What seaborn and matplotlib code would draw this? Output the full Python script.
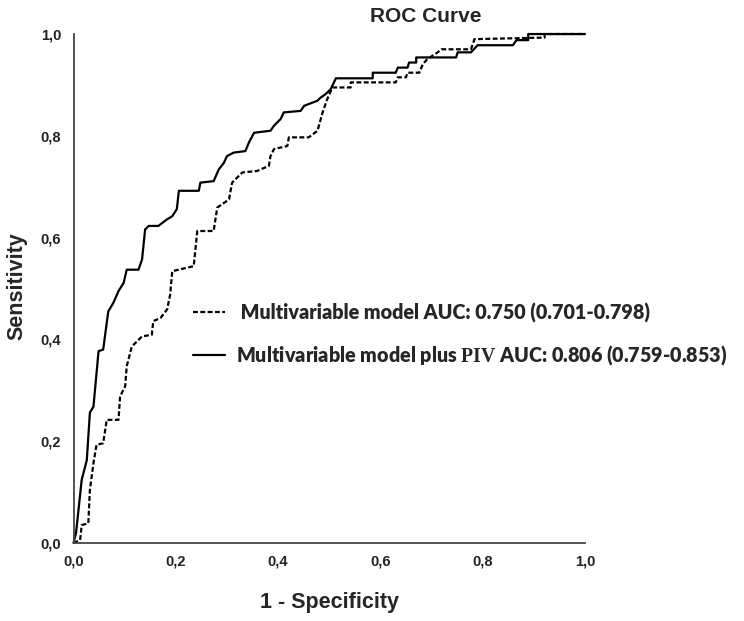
"""
ROC curves: multivariable model vs multivariable model plus PIV
"""

import numpy as np
import pandas as pd
import matplotlib
matplotlib.use('Agg')
import matplotlib.pyplot as plt
import seaborn as sns

# ROC vertices (1 - specificity, sensitivity)
base_fpr = [0.000, 0.013, 0.016, 0.029, 0.032, 0.039, 0.045, 0.058, 0.065, 0.088,
            0.091, 0.101, 0.104, 0.114, 0.134, 0.153, 0.156, 0.170, 0.183, 0.189,
            0.193, 0.235, 0.242, 0.274, 0.281, 0.304, 0.310, 0.330, 0.359, 0.382,
            0.385, 0.392, 0.418, 0.421, 0.460, 0.477, 0.487, 0.496, 0.506, 0.542,
            0.542, 0.630, 0.634, 0.650, 0.653, 0.676, 0.683, 0.692, 0.712, 0.719,
            0.777, 0.784, 0.921, 0.921, 1.000]
base_tpr = [0.000, 0.006, 0.035, 0.039, 0.104, 0.157, 0.193, 0.196, 0.242, 0.242,
            0.288, 0.308, 0.347, 0.386, 0.406, 0.409, 0.436, 0.442, 0.459, 0.488,
            0.534, 0.544, 0.613, 0.613, 0.659, 0.675, 0.708, 0.728, 0.731, 0.741,
            0.760, 0.774, 0.780, 0.797, 0.797, 0.810, 0.846, 0.872, 0.895, 0.895,
            0.905, 0.905, 0.915, 0.915, 0.924, 0.924, 0.941, 0.951, 0.964, 0.970,
            0.970, 0.990, 0.993, 1.000, 1.000]

piv_fpr = [0.000, 0.005, 0.009, 0.016, 0.026, 0.032, 0.039, 0.049, 0.058, 0.068,
           0.078, 0.088, 0.098, 0.104, 0.127, 0.134, 0.140, 0.147, 0.166, 0.183,
           0.193, 0.202, 0.206, 0.245, 0.248, 0.274, 0.284, 0.294, 0.300, 0.313,
           0.336, 0.343, 0.353, 0.385, 0.392, 0.405, 0.411, 0.444, 0.451, 0.477,
           0.483, 0.493, 0.503, 0.513, 0.585, 0.585, 0.630, 0.634, 0.653, 0.656,
           0.670, 0.670, 0.748, 0.751, 0.777, 0.790, 0.859, 0.866, 0.889, 0.889,
           1.000]
piv_tpr = [0.000, 0.020, 0.058, 0.124, 0.163, 0.256, 0.268, 0.377, 0.380, 0.455,
           0.472, 0.495, 0.511, 0.537, 0.537, 0.557, 0.616, 0.623, 0.623, 0.636,
           0.642, 0.656, 0.692, 0.692, 0.708, 0.711, 0.734, 0.747, 0.760, 0.767,
           0.770, 0.787, 0.806, 0.810, 0.820, 0.833, 0.846, 0.849, 0.859, 0.869,
           0.875, 0.882, 0.892, 0.913, 0.913, 0.924, 0.924, 0.934, 0.934, 0.944,
           0.944, 0.954, 0.954, 0.964, 0.964, 0.978, 0.978, 0.988, 0.988, 1.000,
           1.000]

ticks = [0.0, 0.2, 0.4, 0.6, 0.8, 1.0]
tick_labels = ['0,0', '0,2', '0,4', '0,6', '0,8', '1,0']

label_base = ' Multivariable model AUC: 0.750 (0.701-0.798)'
label_piv = 'Multivariable model plus $\\mathbf{PIV}$ AUC: 0.806 (0.759-0.853)'

sns.set_style('white')
plt.rcParams['font.family'] = ['Liberation Sans', 'DejaVu Sans']
plt.rcParams['mathtext.fontset'] = 'custom'
plt.rcParams['mathtext.bf'] = 'Liberation Serif:bold'
plt.rcParams['mathtext.rm'] = 'Liberation Serif'

fig = plt.figure(figsize=(7.44, 6.21), dpi=100)
ax = fig.add_axes([0.0988, 0.1256, 0.6875, 0.8196])

df_base = pd.DataFrame({'fpr': base_fpr, 'tpr': base_tpr})
df_piv = pd.DataFrame({'fpr': piv_fpr, 'tpr': piv_tpr})

sns.lineplot(data=df_base, x='fpr', y='tpr', sort=False, estimator=None, ax=ax,
             color='black', linewidth=1.6, linestyle=(0, (2.2, 1.1)),
             label=label_base, clip_on=False)
sns.lineplot(data=df_piv, x='fpr', y='tpr', sort=False, estimator=None, ax=ax,
             color='black', linewidth=1.6, label=label_piv, clip_on=False)

ax.set_xlim(0, 1)
ax.set_ylim(0, 1)
ax.set_xticks(ticks)
ax.set_xticklabels(tick_labels)
ax.set_yticks(ticks)
ax.set_yticklabels(tick_labels)
ax.tick_params(length=0, labelsize=10.5, labelcolor='#222222')
ax.tick_params(axis='x', pad=8)
ax.tick_params(axis='y', pad=9)
for lab in ax.get_xticklabels() + ax.get_yticklabels():
    lab.set_fontweight('bold')

sns.despine(ax=ax)
for side in ['left', 'bottom']:
    ax.spines[side].set_color('#444444')
    ax.spines[side].set_linewidth(1.3)

ax.set_xlabel('1 - Specificity', fontsize=15.5, fontweight='bold')
ax.set_ylabel('Sensitivity', fontsize=15.5, fontweight='bold')
ax.xaxis.set_label_coords(0.5, -0.096)
ax.yaxis.set_label_coords(-0.091, 0.505)

fig.text(370 / 744, 1 - 17 / 621, 'ROC Curve', ha='left', va='center',
         fontsize=15, fontweight='bold')

ax.legend(loc='center left', bbox_to_anchor=(0.234, 0.409), frameon=False,
          prop={'family': 'Lato', 'weight': 'heavy', 'size': 14.2},
          handlelength=1.6, handletextpad=0.55, labelspacing=1.05,
          borderpad=0, borderaxespad=0)

fig.savefig('out.png', dpi=100)
plt.close(fig)
